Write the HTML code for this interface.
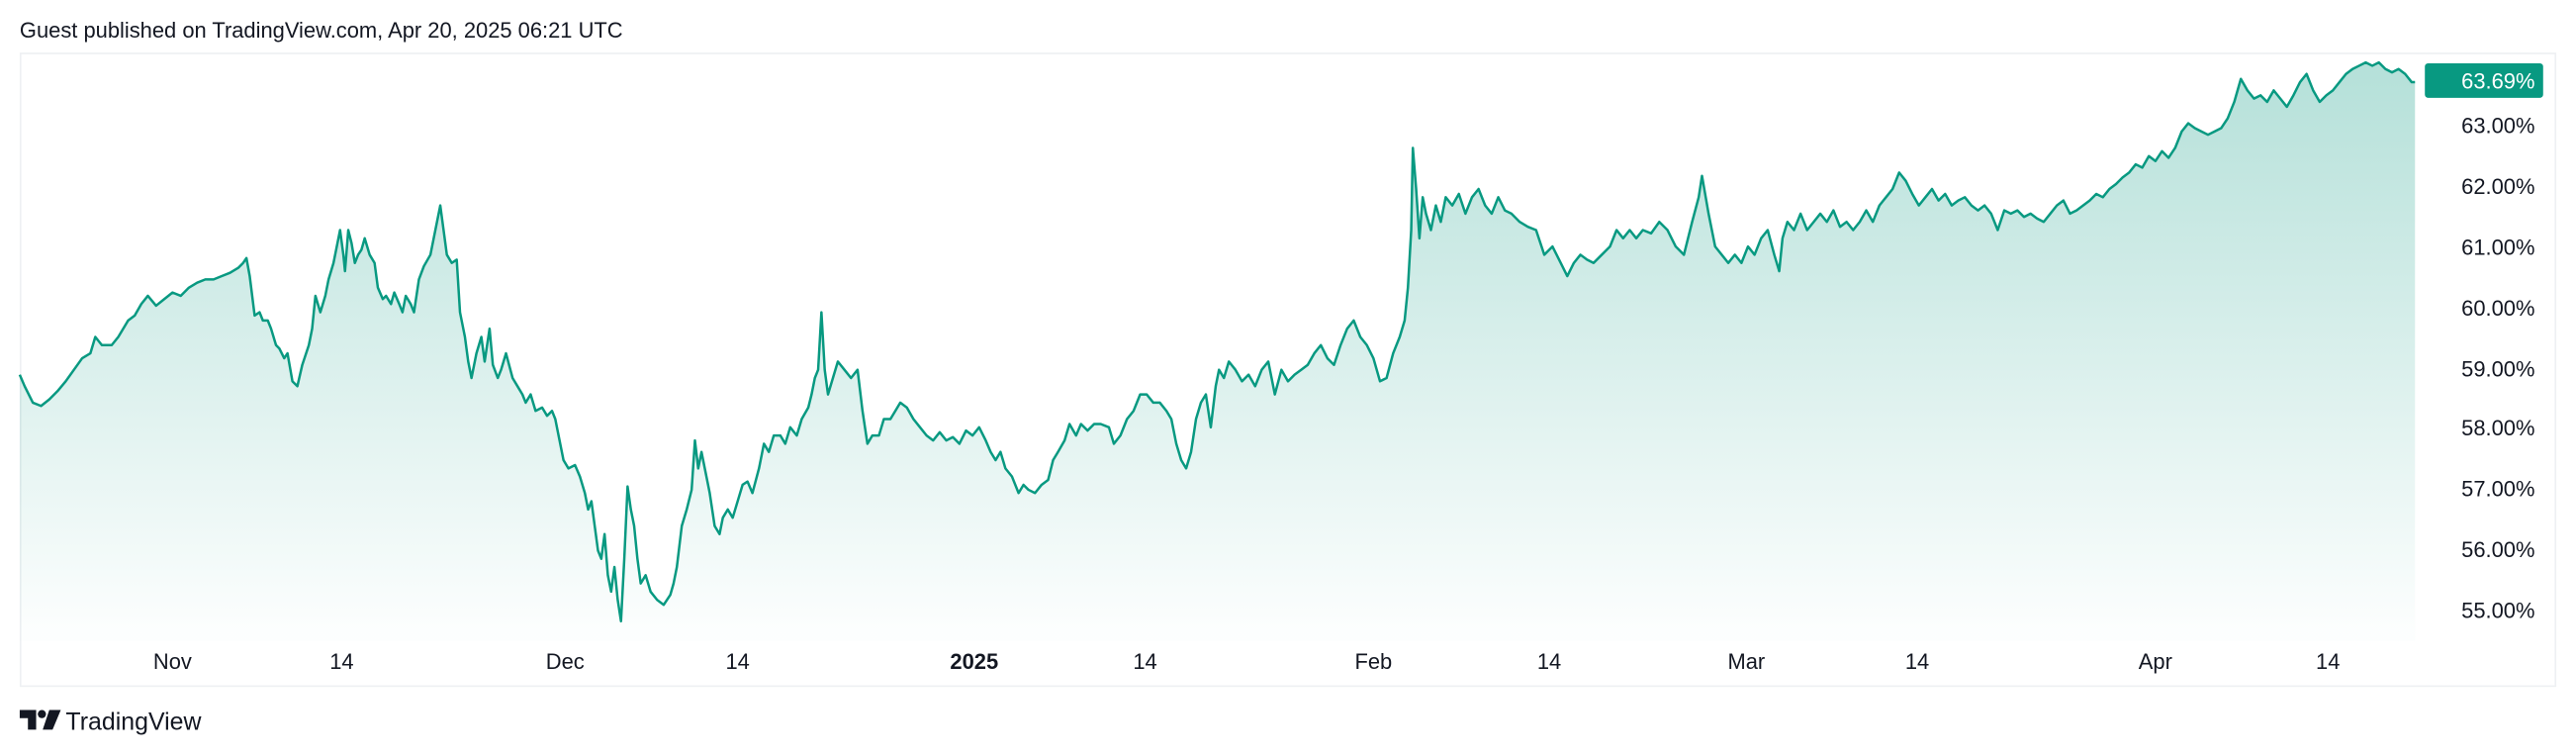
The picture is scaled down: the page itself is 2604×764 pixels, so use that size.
<!DOCTYPE html>
<html><head><meta charset="utf-8"><style>
html,body{margin:0;padding:0;background:#fff;}
svg{display:block;}
text{font-family:"Liberation Sans",sans-serif;fill:#131722;}
</style></head><body>
<svg width="2604" height="764" viewBox="0 0 1568 460" preserveAspectRatio="none" xmlns="http://www.w3.org/2000/svg">
<defs>
<linearGradient id="g" x1="0" y1="0" x2="0" y2="1" gradientUnits="userSpaceOnUse" x1o="0">
</linearGradient>
<linearGradient id="fg" gradientUnits="userSpaceOnUse" x1="0" y1="40" x2="0" y2="385">
<stop offset="0" stop-color="#089981" stop-opacity="0.3"/>
<stop offset="1" stop-color="#089981" stop-opacity="0.01"/>
</linearGradient>
</defs>
<rect width="1568" height="460" fill="#fff"/>
<text x="12" y="23" font-size="13.2">Guest published on TradingView.com, Apr 20, 2025 06:21 UTC</text>
<rect x="12.5" y="32.5" width="1543" height="385" fill="none" stroke="#eef0f3" stroke-width="1"/>
<g id="series">
<path id="p" fill="url(#fg)" stroke="none" d="M12,228 L15,235 20,245 25,247 30,243 35,238 40,232 45,225 50,218 55,215 58,205 62,210 68,210 72,205 78,195 82,192 86,185 90,180 95,186 100,182 105,178 110,180 115,175 120,172 125,170 130,170 135,168 140,166 145,163 148,160 150,157 152,168 155,192 158,190 160,195 163,195 165,200 168,210 170,212 173,218 175,215 178,232 181,235 184,222 188,210 190,200 192,180 195,190 198,180 200,170 203,160 205,150 207,140 209,155 210,165 212,140 214,148 216,160 218,155 220,152 222,145 225,155 228,160 230,175 233,182 235,180 238,185 240,178 243,185 245,190 247,180 250,185 252,190 255,170 258,162 262,155 265,140 268,125 270,140 272,155 275,160 278,158 280,190 283,205 285,220 287,230 290,215 293,205 295,220 298,200 300,222 303,230 305,225 308,215 312,230 315,235 318,240 320,245 323,240 326,250 330,248 333,253 336,250 338,255 340,265 343,280 346,285 350,283 353,290 356,300 358,310 360,305 362,320 364,335 366,340 368,325 370,350 372,360 374,345 376,365 378,378 380,340 382,296 384,310 386,320 388,340 390,355 393,350 396,360 400,365 404,368 408,362 410,355 412,345 415,320 418,310 421,298 423,268 425,285 427,275 430,290 432,300 435,320 438,325 440,315 443,310 446,315 449,305 452,295 455,293 458,300 462,285 465,270 468,275 471,265 475,265 478,270 481,260 485,265 488,255 492,248 494,240 496,230 498,225 500,190 502,225 504,240 507,230 510,220 514,225 518,230 522,225 525,250 528,270 531,265 535,265 538,255 542,255 545,250 548,245 552,248 556,255 560,260 564,265 568,268 572,263 576,268 580,266 584,270 588,262 592,265 596,260 600,268 603,275 606,280 609,275 612,285 616,290 620,300 623,295 626,298 630,300 634,295 638,292 641,280 644,275 648,268 651,258 655,265 658,258 662,262 666,258 670,258 675,260 678,270 682,265 686,255 690,250 694,240 698,240 702,245 706,245 710,250 713,255 716,270 719,280 722,285 725,275 728,255 731,245 734,240 737,260 740,235 742,225 745,230 748,220 752,225 756,232 760,228 764,235 768,225 772,220 776,240 780,225 784,232 788,228 792,225 796,222 800,215 804,210 808,218 812,222 816,210 820,200 824,195 828,205 832,210 836,218 840,232 844,230 848,215 852,205 855,195 857,175 859,140 860,90 862,115 864,145 866,120 868,130 871,140 874,125 877,135 880,120 884,125 888,118 892,130 896,120 900,115 904,125 908,130 912,120 916,128 920,130 925,135 930,138 935,140 940,155 945,150 950,160 954,168 958,160 962,155 966,158 970,160 975,155 980,150 984,140 988,145 992,140 996,145 1000,140 1005,142 1010,135 1015,140 1020,150 1025,155 1030,135 1034,120 1036,107 1040,130 1044,150 1048,155 1052,160 1056,155 1060,160 1064,150 1068,155 1072,145 1076,140 1080,155 1083,165 1085,145 1088,135 1092,140 1096,130 1100,140 1104,135 1108,130 1112,135 1116,128 1120,138 1124,135 1128,140 1132,135 1136,128 1140,135 1144,125 1148,120 1152,115 1156,105 1160,110 1164,118 1168,125 1172,120 1176,115 1180,122 1184,118 1188,125 1192,122 1196,120 1200,125 1204,128 1208,125 1212,130 1216,140 1220,128 1224,130 1228,128 1232,132 1236,130 1240,133 1244,135 1248,130 1252,125 1256,122 1260,130 1264,128 1268,125 1272,122 1276,118 1280,120 1284,115 1288,112 1292,108 1296,105 1300,100 1304,102 1308,95 1312,98 1316,92 1320,96 1324,90 1328,80 1332,75 1336,78 1340,80 1344,82 1348,80 1352,78 1356,72 1360,62 1364,48 1368,55 1372,60 1376,58 1380,62 1384,55 1388,60 1392,65 1396,58 1400,50 1404,45 1408,55 1412,62 1416,58 1420,55 1424,50 1428,45 1432,42 1436,40 1440,38 1444,40 1448,38 1452,42 1456,44 1460,42 1464,45 1468,50 1470,50 L1470,390 L12,390 Z"/>
</g>
<polyline fill="none" stroke="#089981" stroke-width="1.5" stroke-linejoin="round" points="12,228 15,235 20,245 25,247 30,243 35,238 40,232 45,225 50,218 55,215 58,205 62,210 68,210 72,205 78,195 82,192 86,185 90,180 95,186 100,182 105,178 110,180 115,175 120,172 125,170 130,170 135,168 140,166 145,163 148,160 150,157 152,168 155,192 158,190 160,195 163,195 165,200 168,210 170,212 173,218 175,215 178,232 181,235 184,222 188,210 190,200 192,180 195,190 198,180 200,170 203,160 205,150 207,140 209,155 210,165 212,140 214,148 216,160 218,155 220,152 222,145 225,155 228,160 230,175 233,182 235,180 238,185 240,178 243,185 245,190 247,180 250,185 252,190 255,170 258,162 262,155 265,140 268,125 270,140 272,155 275,160 278,158 280,190 283,205 285,220 287,230 290,215 293,205 295,220 298,200 300,222 303,230 305,225 308,215 312,230 315,235 318,240 320,245 323,240 326,250 330,248 333,253 336,250 338,255 340,265 343,280 346,285 350,283 353,290 356,300 358,310 360,305 362,320 364,335 366,340 368,325 370,350 372,360 374,345 376,365 378,378 380,340 382,296 384,310 386,320 388,340 390,355 393,350 396,360 400,365 404,368 408,362 410,355 412,345 415,320 418,310 421,298 423,268 425,285 427,275 430,290 432,300 435,320 438,325 440,315 443,310 446,315 449,305 452,295 455,293 458,300 462,285 465,270 468,275 471,265 475,265 478,270 481,260 485,265 488,255 492,248 494,240 496,230 498,225 500,190 502,225 504,240 507,230 510,220 514,225 518,230 522,225 525,250 528,270 531,265 535,265 538,255 542,255 545,250 548,245 552,248 556,255 560,260 564,265 568,268 572,263 576,268 580,266 584,270 588,262 592,265 596,260 600,268 603,275 606,280 609,275 612,285 616,290 620,300 623,295 626,298 630,300 634,295 638,292 641,280 644,275 648,268 651,258 655,265 658,258 662,262 666,258 670,258 675,260 678,270 682,265 686,255 690,250 694,240 698,240 702,245 706,245 710,250 713,255 716,270 719,280 722,285 725,275 728,255 731,245 734,240 737,260 740,235 742,225 745,230 748,220 752,225 756,232 760,228 764,235 768,225 772,220 776,240 780,225 784,232 788,228 792,225 796,222 800,215 804,210 808,218 812,222 816,210 820,200 824,195 828,205 832,210 836,218 840,232 844,230 848,215 852,205 855,195 857,175 859,140 860,90 862,115 864,145 866,120 868,130 871,140 874,125 877,135 880,120 884,125 888,118 892,130 896,120 900,115 904,125 908,130 912,120 916,128 920,130 925,135 930,138 935,140 940,155 945,150 950,160 954,168 958,160 962,155 966,158 970,160 975,155 980,150 984,140 988,145 992,140 996,145 1000,140 1005,142 1010,135 1015,140 1020,150 1025,155 1030,135 1034,120 1036,107 1040,130 1044,150 1048,155 1052,160 1056,155 1060,160 1064,150 1068,155 1072,145 1076,140 1080,155 1083,165 1085,145 1088,135 1092,140 1096,130 1100,140 1104,135 1108,130 1112,135 1116,128 1120,138 1124,135 1128,140 1132,135 1136,128 1140,135 1144,125 1148,120 1152,115 1156,105 1160,110 1164,118 1168,125 1172,120 1176,115 1180,122 1184,118 1188,125 1192,122 1196,120 1200,125 1204,128 1208,125 1212,130 1216,140 1220,128 1224,130 1228,128 1232,132 1236,130 1240,133 1244,135 1248,130 1252,125 1256,122 1260,130 1264,128 1268,125 1272,122 1276,118 1280,120 1284,115 1288,112 1292,108 1296,105 1300,100 1304,102 1308,95 1312,98 1316,92 1320,96 1324,90 1328,80 1332,75 1336,78 1340,80 1344,82 1348,80 1352,78 1356,72 1360,62 1364,48 1368,55 1372,60 1376,58 1380,62 1384,55 1388,60 1392,65 1396,58 1400,50 1404,45 1408,55 1412,62 1416,58 1420,55 1424,50 1428,45 1432,42 1436,40 1440,38 1444,40 1448,38 1452,42 1456,44 1460,42 1464,45 1468,50 1470,50"/>
<g font-size="13.2" text-anchor="end">
<text x="1543" y="81">63.00%</text>
<text x="1543" y="118">62.00%</text>
<text x="1543" y="155">61.00%</text>
<text x="1543" y="192">60.00%</text>
<text x="1543" y="229">59.00%</text>
<text x="1543" y="265">58.00%</text>
<text x="1543" y="302">57.00%</text>
<text x="1543" y="339">56.00%</text>
<text x="1543" y="376">55.00%</text>
</g>
<rect x="1476" y="38.5" width="72" height="21" rx="2" fill="#089981"/>
<text x="1543" y="54" font-size="13.2" text-anchor="end" style="fill:#fff">63.69%</text>
<g font-size="13.2" text-anchor="middle">
<text x="105" y="407">Nov</text>
<text x="208" y="407">14</text>
<text x="344" y="407">Dec</text>
<text x="449" y="407">14</text>
<text x="593" y="407" font-weight="bold">2025</text>
<text x="697" y="407">14</text>
<text x="836" y="407">Feb</text>
<text x="943" y="407">14</text>
<text x="1063" y="407">Mar</text>
<text x="1167" y="407">14</text>
<text x="1312" y="407">Apr</text>
<text x="1417" y="407">14</text>
</g>
<g fill="#131722">
<path d="M12,432 H22 V444 H17 V437 H12 Z"/>
<circle cx="25.5" cy="434.5" r="2.5"/>
<path d="M30,432 H37 L32,444 H26 Z"/>
</g>
<text x="40" y="444" font-size="15">TradingView</text>
</svg>
</body></html>
